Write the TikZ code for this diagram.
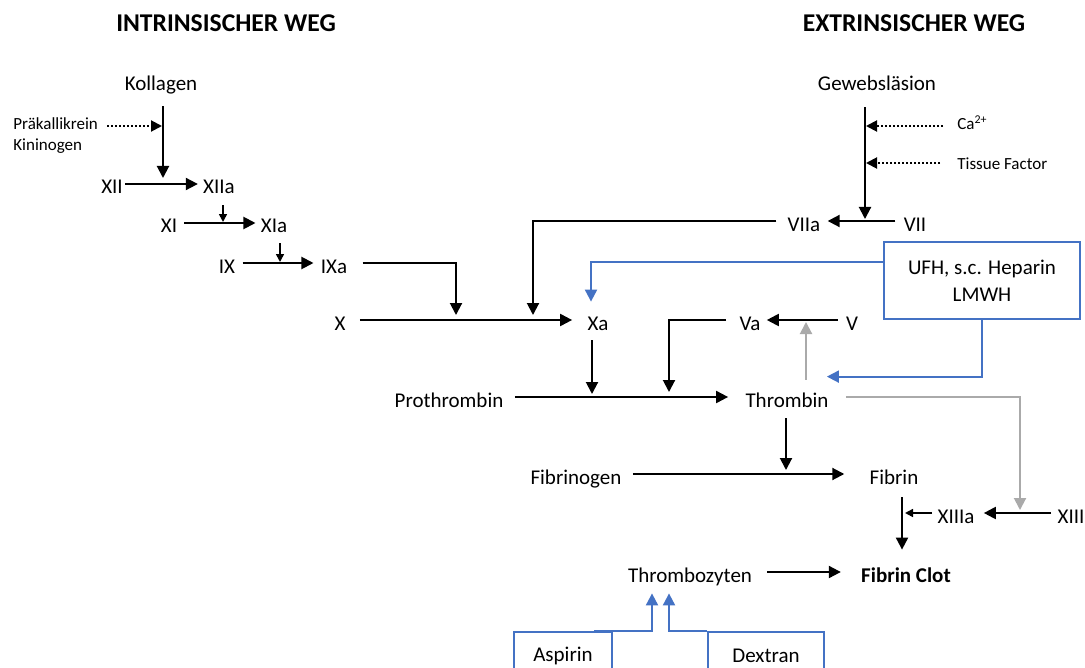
\documentclass[tikz,border=0pt]{standalone}
\usepackage{fontspec}
\setmainfont{Carlito}
\usetikzlibrary{arrows.meta}
\definecolor{hblue}{RGB}{68,114,196}
\definecolor{hgray}{RGB}{170,170,170}
\tikzset{
  lbl/.style={inner sep=0pt, text height=10pt, text depth=0pt, font=\fontsize{10.5pt}{12.6pt}\selectfont},
  smalllbl/.style={inner sep=0pt, text height=5.5pt, text depth=0pt, font=\fontsize{8.5pt}{10pt}\selectfont},
  titlelbl/.style={inner sep=0pt, font=\fontsize{12.8pt}{15pt}\selectfont\bfseries},
  drugbox/.style={draw=hblue, line width=1pt, inner sep=0pt, align=center, font=\fontsize{10.5pt}{13.5pt}\selectfont},
  arr/.style={line width=1pt, -{Triangle[length=6pt,width=6pt]}},
  sarr/.style={line width=0.8pt, -{Triangle[length=4pt,width=4pt]}},
  dotarr/.style={line width=1pt, dash pattern=on 1pt off 1pt, -{Triangle[length=5.5pt,width=5.5pt]}},
  barr/.style={line width=1pt, draw=hblue, -{Triangle[length=6pt,width=6pt,fill=hblue]}},
  garr/.style={line width=1pt, draw=hgray, -{Triangle[length=6pt,width=6pt,fill=hgray]}},
}
\begin{document}
\begin{tikzpicture}[x=0.5pt,y=-0.5pt]
\useasboundingbox (0,0) rectangle (1085,668);
\clip (0,0) rectangle (1085,668);

% titles
\node[titlelbl] (intr) at (226,23) {INTRINSISCHER WEG};
\node[titlelbl] (extr) at (914,23) {EXTRINSISCHER WEG};

% intrinsic nodes
\node[lbl] (kollagen) at (161,81) {Kollagen};
\node[smalllbl, anchor=west] (prak) at (13,124) {Präkallikrein};
\node[smalllbl, anchor=west] (kinin) at (13,145) {Kininogen};
\node[lbl] (xii) at (112,184) {XII};
\node[lbl] (xiia) at (219,184) {XIIa};
\node[lbl] (xi) at (169,223) {XI};
\node[lbl] (xia) at (274,223) {XIa};
\node[lbl] (ix) at (227,263) {IX};
\node[lbl] (ixa) at (334,263) {IXa};
\node[lbl] (x) at (340,320) {X};
\node[lbl] (xa) at (598,320) {Xa};

% extrinsic nodes
\node[lbl] (geweb) at (877,81) {Gewebsläsion};
\node[smalllbl, anchor=west] (ca) at (957,124) {Ca\textsuperscript{2+}};
\node[smalllbl, anchor=west] (tf) at (957,164) {Tissue Factor};
\node[lbl] (vii) at (915,221) {VII};
\node[lbl] (viia) at (804,221) {VIIa};
\node[drugbox, minimum width=98pt, minimum height=38.5pt] (ufh) at (982,280.5) {UFH, s.c. Heparin\\LMWH};

% common pathway
\node[lbl] (va) at (750,320) {Va};
\node[lbl] (v) at (852,320) {V};
\node[lbl] (proth) at (449,397) {Prothrombin};
\node[lbl] (thrombin) at (787,397) {Thrombin};
\node[lbl] (fibrinogen) at (576,474) {Fibrinogen};
\node[lbl] (fibrin) at (894,474) {Fibrin};
\node[lbl] (xiiia) at (956,513) {XIIIa};
\node[lbl] (xiii) at (1071,513) {XIII};
\node[lbl] (thrombo) at (690,572) {Thrombozyten};
\node[lbl, font=\fontsize{10.5pt}{12.6pt}\selectfont\bfseries] (clot) at (906,572) {Fibrin Clot};
\node[drugbox, minimum width=49pt, minimum height=24pt] (aspirin) at (563,656) {Aspirin};
\node[drugbox, minimum width=58pt, minimum height=24pt] (dextran) at (766,656) {Dextran};

% junction coordinates
\coordinate (k12) at (163,184);
\coordinate (kd) at (163,126);
\coordinate (c11) at (223,223);
\coordinate (c9) at (280,263);
\coordinate (cx1) at (456,320);
\coordinate (cx2) at (533,320);
\coordinate (cg) at (865,221);
\coordinate (cg1) at (865,126);
\coordinate (cg2) at (865,163);
\coordinate (cp1) at (592,397);
\coordinate (cp2) at (669,397);
\coordinate (cv) at (806,320);
\coordinate (c13) at (1020,513);
\coordinate (cf) at (786,474);
\coordinate (cfc) at (902,513);

% intrinsic connectors
\draw[arr] ([xshift=1pt,yshift=-7.5pt]kollagen.south) -- ([yshift=3pt]k12);
\draw[dotarr] ([xshift=4.5pt,yshift=-1pt]prak.east) -- ([xshift=-0.5pt]kd);
\draw[arr] ([xshift=1pt]xii.east) -- ([xshift=-2.5pt]xiia.west);
\draw[sarr] ([xshift=2pt,yshift=-5.5pt]xiia.south) -- ([yshift=0.5pt]c11);
\draw[arr] ([xshift=3.5pt]xi.east) -- ([xshift=-2.5pt]xia.west);
\draw[sarr] ([xshift=3pt,yshift=-5pt]xia.south) -- ([yshift=0.5pt]c9);
\draw[arr] ([xshift=3.5pt]ix.east) -- ([xshift=-3.5pt]ixa.west);
\draw[arr] ([xshift=7.5pt]ixa.east) -| ([yshift=2.5pt]cx1);
\draw[arr] ([xshift=7pt]x.east) -- ([xshift=-7.5pt]xa.west);

% extrinsic connectors
\draw[arr] ([xshift=-6pt,yshift=-8pt]geweb.south) -- ([yshift=1pt]cg);
\draw[dotarr] ([xshift=-7pt,yshift=-1pt]ca.west) -- ([xshift=0.5pt]cg1);
\draw[dotarr] ([xshift=-8.5pt,yshift=0.5pt]tf.west) -- ([xshift=0.5pt]cg2);
\draw[arr] ([xshift=-4pt]vii.west) -- ([xshift=3.5pt]viia.east);
\draw[arr] ([xshift=-5.5pt]viia.west) -| ([yshift=2.5pt]cx2);

% heparin
\draw[barr] ([yshift=9.25pt]ufh.west) -| ([xshift=-3.5pt,yshift=4pt]xa.north);
\draw[barr] (ufh.south) |- ([xshift=-1pt,yshift=5pt]thrombin.north east);

% common pathway connectors
\draw[arr] ([xshift=-3pt,yshift=-5pt]xa.south) -- ([yshift=1.5pt]cp1);
\draw[arr] ([xshift=5.5pt]proth.east) -- ([xshift=-8.5pt]thrombin.west);
\draw[arr] ([xshift=-4pt]v.west) -- ([xshift=3pt]va.east);
\draw[arr] ([xshift=-6.5pt]va.west) -| ([yshift=2.5pt]cp2);
\draw[garr] ([xshift=9.5pt,yshift=3.5pt]thrombin.north) -- ([yshift=-1pt]cv);
\draw[garr] ([xshift=8.5pt]thrombin.east) -| ([yshift=1.5pt]c13);
\draw[arr] ([xshift=-0.5pt,yshift=-5.5pt]thrombin.south) -- ([yshift=2pt]cf);
\draw[arr] ([xshift=5.5pt]fibrinogen.east) -- ([xshift=-12.5pt]fibrin.west);
\draw[arr] ([xshift=4pt,yshift=-6.5pt]fibrin.south) -- ([xshift=-2pt,yshift=6pt]clot.north);
\draw[sarr] ([xshift=-2.5pt]xiiia.west) -- ([xshift=1.5pt]cfc);
\draw[arr] ([xshift=-3pt]xiii.west) -- ([xshift=4.5pt]xiiia.east);
\draw[arr] ([xshift=7.5pt]thrombo.east) -- ([xshift=-10pt]clot.west);

% antiplatelet
\draw[barr] ([xshift=-9.5pt]aspirin.north east) -| ([xshift=-19pt,yshift=-5.5pt]thrombo.south);
\draw[barr] (dextran.north west) -| ([xshift=-10.5pt,yshift=-5.5pt]thrombo.south);
\end{tikzpicture}
\end{document}
